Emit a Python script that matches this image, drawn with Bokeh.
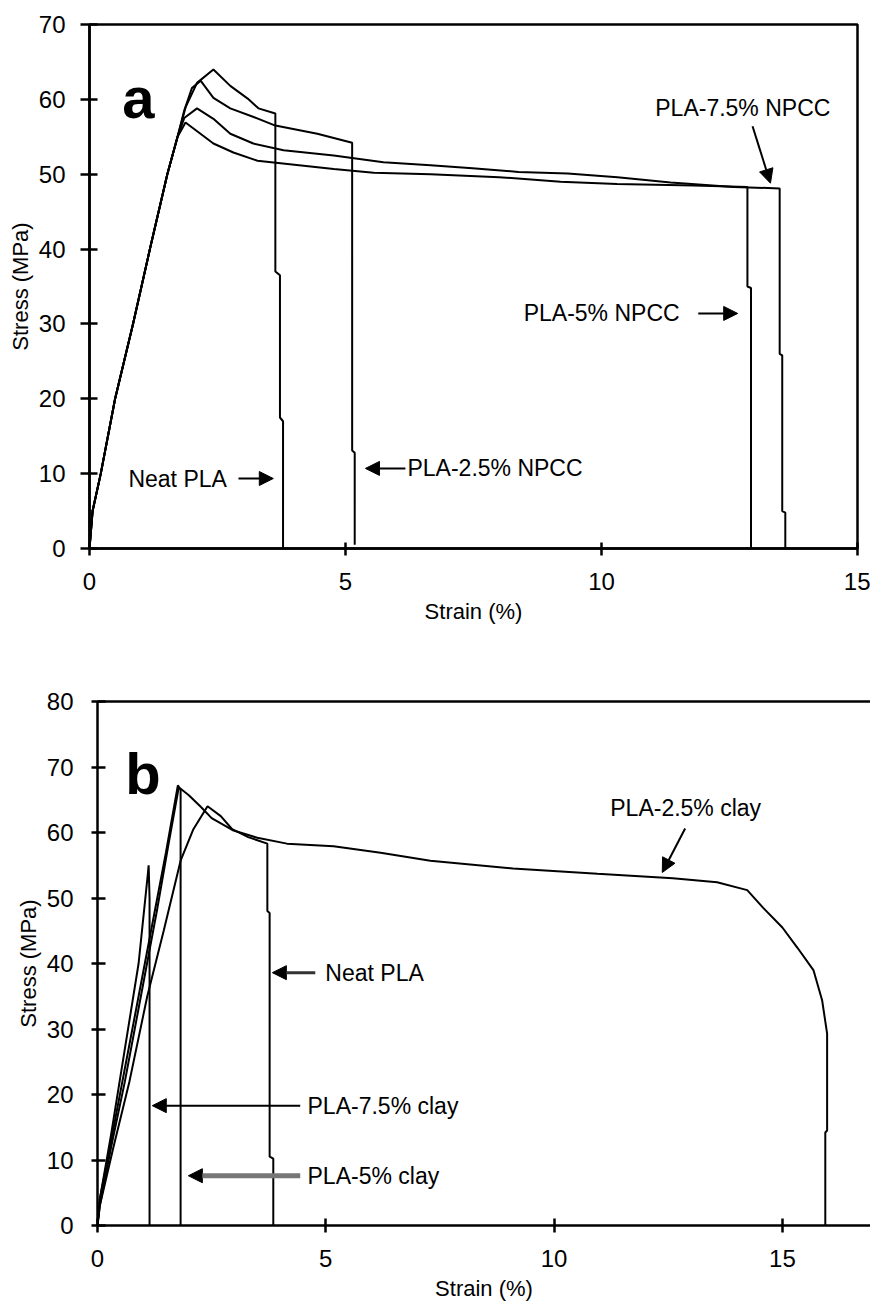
from bokeh.plotting import figure
from bokeh.models import Arrow, NormalHead, Label, LinearAxis, FixedTicker, Range1d
from bokeh.embed import file_html
from bokeh.resources import INLINE

FONT = "Liberation Sans"

# ---------------- Panel a data (strain %, stress MPa) ----------------
a_neat_x = [0, 0.06, 0.22, 0.5, 0.85, 1.18, 1.52, 1.72, 1.88, 2.1, 2.42, 2.75, 3.09, 3.30, 3.63, 3.63, 3.72, 3.72, 3.78, 3.78]
a_neat_y = [0, 5, 10, 20, 30, 40, 50, 55, 59, 62.2, 64.0, 61.8, 60.1, 58.8, 58.1, 37, 36.5, 17.5, 17, 0]

a_25_x = [0, 0.06, 0.22, 0.5, 0.85, 1.18, 1.52, 1.72, 1.85, 2.0, 2.17, 2.42, 2.75, 3.3, 3.63, 4.45, 5.13, 5.13, 5.18, 5.18]
a_25_y = [0, 5, 10, 20, 30, 40, 50, 55, 58.5, 61.5, 62.5, 60.2, 58.8, 57.4, 56.5, 55.4, 54.2, 13.1, 12.8, 0.5]

a_75_x = [0, 0.06, 0.22, 0.5, 0.85, 1.18, 1.52, 1.72, 1.85, 2.1, 2.42, 2.75, 3.2, 3.79, 4.77, 5.74, 6.66, 7.48, 8.38, 9.34, 10.31, 11.35, 12.58, 13.48, 13.48, 13.53, 13.53, 13.59, 13.59]
a_75_y = [0, 5, 10, 20, 30, 40, 50, 55, 57.5, 58.8, 57.4, 55.4, 54.1, 53.2, 52.5, 51.6, 51.2, 50.8, 50.3, 50.1, 49.6, 48.9, 48.3, 48.1, 26, 25.8, 5, 4.8, 0]

a_5_x = [0, 0.06, 0.22, 0.5, 0.85, 1.18, 1.52, 1.72, 1.875, 2.42, 2.81, 3.28, 4.77, 5.55, 6.66, 8.0, 9.2, 10.3, 11.8, 12.85, 12.85, 12.92, 12.92]
a_5_y = [0, 5, 10, 20, 30, 40, 50, 55, 56.9, 54.1, 52.9, 51.8, 50.7, 50.2, 50.0, 49.6, 49.0, 48.7, 48.5, 48.3, 35, 34.8, 0]

a_xticks = [0, 5, 10, 15]
a_yticks = [0, 10, 20, 30, 40, 50, 60, 70]

# ---------------- Panel b data ----------------
b_neat_x = [0, 0.05, 0.35, 0.7, 1.09, 1.45, 1.82, 2.1, 2.41, 2.7, 2.95, 3.3, 3.72, 3.72, 3.77, 3.77, 3.85, 3.85]
b_neat_y = [0, 3, 12, 22, 35, 45, 55.7, 60.5, 64.0, 62.5, 60.5, 59.3, 58.3, 48, 47.7, 10.5, 10.2, 0]

b_25_x = [0, 0.05, 0.3, 0.6, 0.95, 1.3, 1.55, 1.78, 2.0, 2.25, 2.5, 2.98, 3.5, 4.15, 5.17, 6.2, 7.29, 9.1, 10.95, 12.6, 13.57, 14.23, 14.58, 15.0, 15.33, 15.68, 15.87, 15.98, 15.98, 15.94, 15.94]
b_25_y = [0, 3, 12, 22, 35, 48, 58, 66.9, 65.7, 64.0, 62.2, 60.3, 59.2, 58.3, 57.9, 56.9, 55.7, 54.5, 53.7, 53.0, 52.4, 51.2, 48.5, 45.5, 42.4, 39.0, 34.4, 29.3, 14.5, 14.2, 0]

b_5_x = [0, 0.05, 0.3, 0.6, 0.9, 1.2, 1.5, 1.76, 1.82, 1.82]
b_5_y = [0, 4, 13, 24, 35, 46, 57, 67.2, 66.5, 0]

b_75_x = [0, 0.05, 0.3, 0.6, 0.9, 1.1, 1.12, 1.14, 1.14]
b_75_y = [0, 4, 14, 27, 40, 53.5, 55, 50, 0]

b_xticks = [0, 5, 10, 15]
b_yticks = [0, 10, 20, 30, 40, 50, 60, 70, 80]


def style_axes(p, tick_out_x, tick_in_x, tick_out_y, tick_in_y, ystand):
    for ax in p.xaxis:
        ax.major_tick_out = tick_out_x
        ax.major_tick_in = tick_in_x
        ax.major_label_standoff = 17
        ax.axis_label_standoff = 6
    for ax in p.yaxis:
        ax.major_tick_out = tick_out_y
        ax.major_tick_in = tick_in_y
        ax.major_label_standoff = ystand
        ax.axis_label_standoff = 3
    for ax in p.xaxis + p.yaxis:
        ax.axis_line_width = 2.5
        ax.axis_line_color = "black"
        ax.major_tick_line_width = 2.5
        ax.major_tick_line_color = "black"
        ax.minor_tick_line_color = None
        ax.major_label_text_font = FONT
        ax.major_label_text_font_size = "24px"
        ax.major_label_text_color = "black"
        ax.axis_label_text_font = FONT
        ax.axis_label_text_font_size = "22px"
        ax.axis_label_text_font_style = "normal"
        ax.axis_label_text_color = "black"
    p.xgrid.grid_line_color = None
    p.ygrid.grid_line_color = None


def add_arrow(p, x0, y0, x1, y1, color="black", width=2, size=14):
    p.add_layout(Arrow(end=NormalHead(size=size, fill_color="black", line_color="black"),
                       x_start=x0, y_start=y0, x_end=x1, y_end=y1,
                       line_color=color, line_width=width))


def add_label(p, x, y, text, size="23px", style="normal", baseline="middle"):
    p.add_layout(Label(x=x, y=y, text=text, text_font=FONT, text_font_size=size,
                       text_font_style=style, text_baseline=baseline, text_color="black"))


# ---------------- Figure a ----------------
pa = figure(width=870, height=650, output_backend="svg", toolbar_location=None,
            x_range=Range1d(0, 15), y_range=Range1d(0, 70),
            min_border_left=89, min_border_right=13, min_border_top=24, min_border_bottom=102,
            x_axis_label="Strain (%)", y_axis_label="Stress (MPa)")
pa.outline_line_color = "black"
pa.outline_line_width = 2.5
pa.xaxis.ticker = FixedTicker(ticks=a_xticks)
pa.yaxis.ticker = FixedTicker(ticks=a_yticks)
style_axes(pa, 7, 6, 9, 8, 15)

for xs, ys in [(a_neat_x, a_neat_y), (a_25_x, a_25_y), (a_75_x, a_75_y), (a_5_x, a_5_y)]:
    pa.line(xs, ys, line_color="black", line_width=2)

add_label(pa, 0.64, 60.2, "a", size="58px", style="bold", baseline="alphabetic")
add_label(pa, 0.76, 9.35, "Neat PLA")
add_arrow(pa, 2.91, 9.35, 3.59, 9.35)
add_label(pa, 6.21, 10.7, "PLA-2.5% NPCC")
add_arrow(pa, 6.17, 10.7, 5.39, 10.7)
add_label(pa, 8.48, 31.4, "PLA-5% NPCC")
add_arrow(pa, 11.89, 31.4, 12.66, 31.4)
add_label(pa, 11.05, 58.9, "PLA-7.5% NPCC")
add_arrow(pa, 12.95, 56.4, 13.3, 48.8)

# ---------------- Figure b ----------------
pb = figure(width=870, height=661, output_backend="svg", toolbar_location=None,
            x_range=Range1d(0, 16.93), y_range=Range1d(0, 80),
            min_border_left=97, min_border_right=0, min_border_top=51, min_border_bottom=86,
            x_axis_label="Strain (%)", y_axis_label="Stress (MPa)")
pb.outline_line_color = None
pb.xaxis.ticker = FixedTicker(ticks=b_xticks)
pb.yaxis.ticker = FixedTicker(ticks=b_yticks)
style_axes(pb, 7, 7, 6, 8, 18)
top_axis = LinearAxis(ticker=FixedTicker(ticks=[]), axis_line_width=2.5, axis_line_color="black",
                      major_tick_line_color=None, minor_tick_line_color=None)
pb.add_layout(top_axis, "above")

for xs, ys in [(b_neat_x, b_neat_y), (b_25_x, b_25_y), (b_5_x, b_5_y), (b_75_x, b_75_y)]:
    pb.line(xs, ys, line_color="black", line_width=2)

add_label(pb, 0.61, 69.0, "b", size="58px", style="bold", baseline="alphabetic")
add_label(pb, 4.99, 38.6, "Neat PLA")
add_arrow(pb, 4.77, 38.6, 3.83, 38.6, color="#333333", width=3)
add_label(pb, 11.23, 63.7, "PLA-2.5% clay")
add_arrow(pb, 12.87, 60.6, 12.37, 53.9)
add_label(pb, 4.6, 18.3, "PLA-7.5% clay")
add_arrow(pb, 4.44, 18.3, 1.2, 18.3)
add_label(pb, 4.6, 7.6, "PLA-5% clay")
add_arrow(pb, 4.44, 7.6, 1.99, 7.6, color="#777777", width=5)

open("out.html", "w").write(file_html([pa, pb], INLINE))
